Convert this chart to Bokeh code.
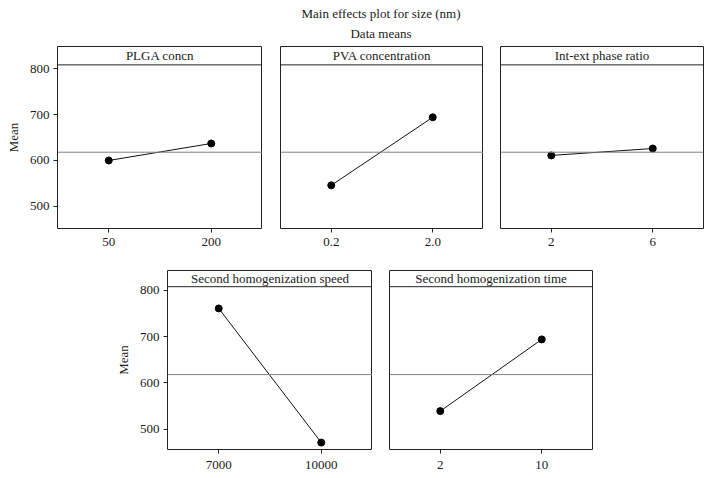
from bokeh.plotting import figure
from bokeh.layouts import column, row
from bokeh.models import Span, Label, FixedTicker, Div
from bokeh.embed import file_html
from bokeh.resources import INLINE

factors = ["PLGA concn", "PVA concentration", "Int-ext phase ratio",
           "Second homogenization speed", "Second homogenization time"]
levels = [["50", "200"], ["0.2", "2.0"], ["2", "6"], ["7000", "10000"], ["2", "10"]]
means = [[600, 637], [546, 694], [611, 626], [761, 471], [539, 694]]
grand_mean = 618
y_ticks = [500, 600, 700, 800]
header_y = 808

FONT = "Liberation Serif"
TXT = "#1a1a1a"


def panel(i, left, frame_w, frame_h, bottom, ylo, yhi, show_y, right=0, standoff=5):
    p = figure(width=left + frame_w + right, height=frame_h + bottom,
               x_range=(-0.5, 1.5), y_range=(ylo, yhi),
               output_backend="svg", toolbar_location=None,
               min_border_left=left, min_border_right=right,
               min_border_top=0, min_border_bottom=bottom)
    p.xgrid.visible = False
    p.ygrid.visible = False
    p.background_fill_color = "white"
    p.border_fill_color = "white"
    p.outline_line_color = "#222222"
    p.outline_line_width = 1

    xs = [0, 1]
    p.add_layout(Span(location=grand_mean, dimension="width",
                      line_color="#808080", line_width=1))
    p.add_layout(Span(location=header_y, dimension="width",
                      line_color="#222222", line_width=1))
    p.add_layout(Label(x=0.5, y=(header_y + yhi) / 2, text=factors[i],
                       text_align="center", text_baseline="middle",
                       text_font=FONT, text_font_size="13px", text_color=TXT))
    p.line(xs, means[i], line_color="#111111", line_width=1)
    p.scatter(xs, means[i], size=7, fill_color="black", line_color="black")

    xa = p.xaxis[0]
    xa.ticker = FixedTicker(ticks=[0, 1])
    xa.major_label_overrides = {0: levels[i][0], 1: levels[i][1]}
    xa.axis_line_color = None
    xa.major_tick_out = 4
    xa.major_tick_in = 0
    xa.minor_tick_line_color = None
    xa.major_tick_line_color = "#222222"
    xa.major_label_text_font = FONT
    xa.major_label_text_font_size = "13px"
    xa.major_label_text_color = TXT
    xa.major_label_standoff = standoff

    ya = p.yaxis[0]
    if show_y:
        ya.ticker = FixedTicker(ticks=y_ticks)
        ya.axis_line_color = None
        ya.major_tick_out = 4
        ya.major_tick_in = 0
        ya.minor_tick_line_color = None
        ya.major_tick_line_color = "#222222"
        ya.major_label_text_font = FONT
        ya.major_label_text_font_size = "13px"
        ya.major_label_text_color = TXT
        ya.major_label_standoff = 4
        ya.axis_label = "Mean"
        ya.axis_label_text_font = FONT
        ya.axis_label_text_font_size = "13px"
        ya.axis_label_text_font_style = "normal"
        ya.axis_label_text_color = TXT
        ya.axis_label_standoff = 6
    else:
        ya.visible = False
    return p


p1 = panel(0, 57, 205, 182, 42, 452, 848, True)
p2 = panel(1, 18, 203, 182, 42, 452, 848, False)
p3 = panel(2, 17, 203, 182, 42, 452, 848, False, right=1)
p4 = panel(3, 167, 205, 179, 28, 456, 843, True, standoff=7)
p5 = panel(4, 17, 203, 179, 28, 456, 843, False, right=1, standoff=7)

title_html = (
    '<div style="position:relative;width:704px;height:46px;'
    'font-family:\'Liberation Serif\';font-size:13px;color:#1a1a1a;">'
    '<div style="position:absolute;left:181px;top:7px;width:400px;'
    'text-align:center;line-height:13px;">Main effects plot for size (nm)</div>'
    '<div style="position:absolute;left:181px;top:27px;width:400px;'
    'text-align:center;line-height:13px;">Data means</div>'
    '</div>'
)
title = Div(text=title_html, width=704, height=46, margin=0)

layout = column(title, row(p1, p2, p3), row(p4, p5))

open("out.html", "w").write(file_html(layout, INLINE))
